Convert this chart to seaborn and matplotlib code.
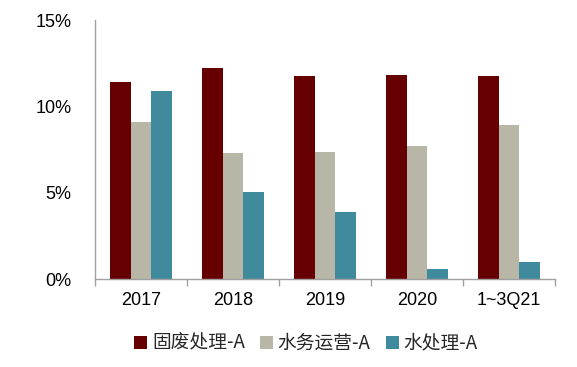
import matplotlib
matplotlib.use("Agg")
import matplotlib.pyplot as plt
import seaborn as sns
import pandas as pd
from matplotlib.ticker import FuncFormatter, FixedLocator
from matplotlib.patches import Patch

categories = ["2017", "2018", "2019", "2020", "1~3Q21"]
series_names = ["固废处理-A", "水务运营-A", "水处理-A"]
solid_waste = [11.39, 12.20, 11.78, 11.80, 11.76]
water_ops = [9.12, 7.29, 7.38, 7.73, 8.92]
water_treat = [10.87, 5.07, 3.87, 0.58, 0.98]
colors = ["#660000", "#B8B7A7", "#3F8A9C"]

rows = []
for name, vals in zip(series_names, [solid_waste, water_ops, water_treat]):
    for c, v in zip(categories, vals):
        rows.append({"cat": c, "series": name, "val": v})
df = pd.DataFrame(rows)

sns.set_theme(style="white")
plt.rcParams['font.family'] = ['Liberation Sans', 'Noto Sans CJK SC', 'DejaVu Sans']

fig = plt.figure(figsize=(5.77, 3.67), dpi=100)
ax = fig.add_axes([0.1646, 0.239, 0.7974, 0.7065])

sns.barplot(data=df, x="cat", y="val", hue="series", palette=colors,
            width=0.67, ax=ax, legend=False, saturation=1, errorbar=None,
            linewidth=0, edgecolor="none")

ax.set_ylim(0, 15)
ax.set_xlim(-0.5, 4.5)
ax.set_yticks([0, 5, 10, 15])
ax.yaxis.set_major_formatter(FuncFormatter(lambda v, p: f"{int(v)}%"))
ax.set_xlabel("")
ax.set_ylabel("")
for s in ["top", "right"]:
    ax.spines[s].set_visible(False)
for s in ["left", "bottom"]:
    ax.spines[s].set_color("#A0A0A0")
    ax.spines[s].set_linewidth(1.0)

ax.tick_params(axis="y", length=0, labelsize=13, pad=17, colors="black")
ax.tick_params(axis="x", which="major", length=0, labelsize=13, pad=9, colors="black")
ax.xaxis.set_minor_locator(FixedLocator([-0.5, 0.5, 1.5, 2.5, 3.5, 4.5]))
ax.tick_params(axis="x", which="minor", length=5, width=1, color="#A0A0A0", direction="out", bottom=True)

handles = [Patch(facecolor=c, edgecolor="none") for c in colors]
fig.legend(handles, series_names, loc="center", bbox_to_anchor=(0.53, 0.065),
           ncol=3, frameon=False, handlelength=0.7, handleheight=0.7,
           handletextpad=0.25, columnspacing=0.8,
           prop={'family': ['Noto Sans CJK SC', 'DejaVu Sans'], 'size': 13.5})

fig.savefig("out.png", dpi=100)
